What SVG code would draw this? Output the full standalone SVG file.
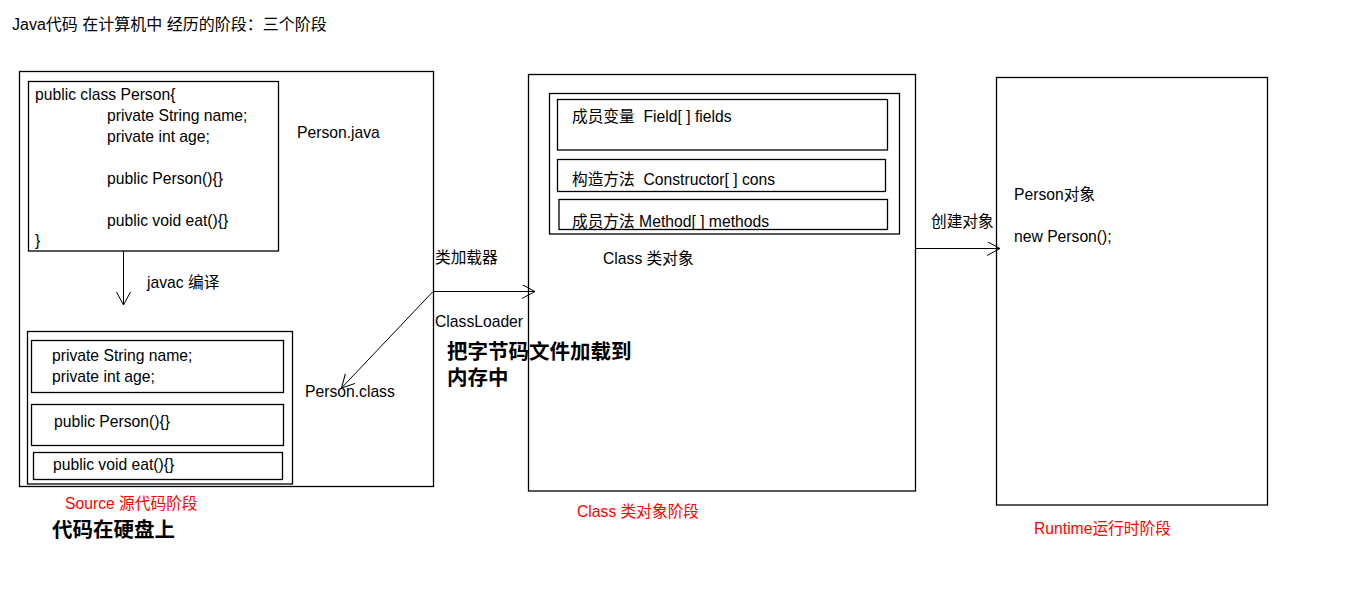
<svg xmlns="http://www.w3.org/2000/svg" width="1360" height="602" viewBox="0 0 1360 602">
<style>
text{font-family:"Liberation Sans","Noto Sans CJK SC",sans-serif;font-size:15.7px;fill:#000;white-space:pre}
.red{fill:#ff0000}
.big{font-size:20.5px;font-weight:bold}
.box{fill:none;stroke:#000;stroke-width:1.3}
.ln{fill:none;stroke:#000;stroke-width:1}
</style>
<defs>
<marker id="arr" markerUnits="userSpaceOnUse" markerWidth="14" markerHeight="16" refX="13" refY="7" orient="auto">
<path d="M0,0 L13,7 L0,14" fill="none" stroke="#000" stroke-width="1"/>
</marker>
</defs>
<rect width="1360" height="602" fill="#fff"/>
<text id="title" x="12" y="30" style="font-size:16px">Java代码 在计算机中 经历的阶段：三个阶段</text>

<g id="source">
<rect class="box" x="19.5" y="71.5" width="414" height="415"/>
<g id="java-code">
<rect class="box" x="28.5" y="81.5" width="250" height="169.5"/>
<text x="35" y="100">public class Person{</text>
<text x="107" y="121">private String name;</text>
<text x="107" y="141.5">private int age;</text>
<text x="107" y="184">public Person(){}</text>
<text x="107" y="226">public void eat(){}</text>
<text x="35" y="246">}</text>
</g>
<text x="297" y="138">Person.java</text>
<text x="147" y="288">javac 编译</text>
<g id="class-file">
<rect class="box" x="27.5" y="331.5" width="265" height="152.5"/>
<rect class="box" x="31.5" y="340.5" width="252" height="52"/>
<text x="52" y="361">private String name;</text>
<text x="52" y="382">private int age;</text>
<rect class="box" x="31.5" y="404.5" width="252" height="41"/>
<text x="54" y="427">public Person(){}</text>
<rect class="box" x="33.5" y="452.5" width="249" height="27"/>
<text x="53" y="470">public void eat(){}</text>
</g>
<text x="305" y="397">Person.class</text>
</g>
<text class="red" x="65" y="508.5">Source 源代码阶段</text>
<text class="big" x="52" y="537">代码在硬盘上</text>

<g id="class-object">
<rect class="box" x="528.5" y="74.5" width="387" height="416.5"/>
<rect class="box" x="549.5" y="93.5" width="350" height="140.5"/>
<rect class="box" x="557.5" y="99.5" width="330" height="50.5"/>
<text x="572" y="122" xml:space="preserve">成员变量  Field[ ] fields</text>
<rect class="box" x="557.5" y="159.5" width="328" height="32"/>
<text x="572" y="185" xml:space="preserve">构造方法  Constructor[ ] cons</text>
<rect class="box" x="559" y="199.5" width="328.5" height="30"/>
<text x="572" y="227">成员方法 Method[ ] methods</text>
<text x="603" y="263.5">Class 类对象</text>
</g>
<text class="red" x="577" y="517">Class 类对象阶段</text>

<g id="runtime">
<rect class="box" x="996.5" y="77.5" width="271" height="427.5"/>
<text x="1014" y="200">Person对象</text>
<text x="1014" y="242">new Person();</text>
</g>
<text class="red" x="1034" y="533.5">Runtime运行时阶段</text>

<g id="connectors">
<line class="ln" x1="123.5" y1="251" x2="123.5" y2="305" marker-end="url(#arr)"/>
<line class="ln" x1="433" y1="291.5" x2="535" y2="291.5" marker-end="url(#arr)"/>
<line class="ln" x1="433" y1="291.5" x2="341.5" y2="388" marker-end="url(#arr)"/>
<line class="ln" x1="915.5" y1="248.5" x2="1000" y2="248.5" marker-end="url(#arr)"/>
<text x="435" y="263">类加载器</text>
<text x="435" y="327">ClassLoader</text>
<text class="big" x="447" y="359">把字节码文件加载到</text>
<text class="big" x="447" y="385">内存中</text>
<text x="931" y="227">创建对象</text>
</g>
</svg>
